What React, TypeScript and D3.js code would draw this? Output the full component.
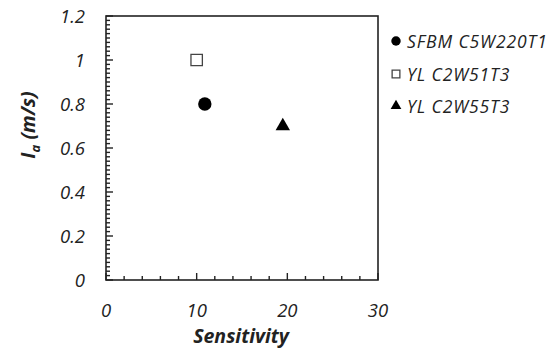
import React, { useEffect, useRef } from "react";
import * as d3 from "d3";

const seriesNames = ["SFBM C5W220T1", "YL C2W51T3", "YL C2W55T3"];
const seriesShapes = ["circle", "square", "triangle"];
const sensitivity = [10.9, 10, 19.5];
const ia = [0.8, 1.0, 0.7];
const xTicks = [0, 10, 20, 30];
const yTicks = [0, 0.2, 0.4, 0.6, 0.8, 1, 1.2];

const App = () => {
  const svgRef = useRef<SVGSVGElement>(null);

  useEffect(() => {
    const w = 557;
    const h = 348;
    const m = { left: 106, top: 16, right: 378, bottom: 280 };
    const svg = d3.select(svgRef.current)
      .attr("width", w)
      .attr("height", h)
      .style("font-family", "'Open Sans', sans-serif");
    svg.selectAll("*").remove();

    const x = d3.scaleLinear().domain([0, 30]).range([m.left, m.right]);
    const y = d3.scaleLinear().domain([0, 1.2]).range([m.bottom, m.top]);
    const ink = "#222";

    // frame
    svg.append("rect")
      .attr("x", m.left).attr("y", m.top)
      .attr("width", m.right - m.left).attr("height", m.bottom - m.top)
      .attr("fill", "none").attr("stroke", ink).attr("stroke-width", 1.6);

    // minor / major inward ticks
    const g = svg.append("g").attr("stroke", ink).attr("stroke-width", 1.4);
    d3.range(0, 30.01, 2).forEach(v => {
      const len = v % 10 === 0 ? 7 : 4;
      g.append("line").attr("x1", x(v)).attr("x2", x(v))
        .attr("y1", m.bottom).attr("y2", m.bottom - len);
    });
    d3.range(0, 1.201, 0.02).forEach(v => {
      const major = Math.abs(Math.round(v / 0.2) * 0.2 - v) < 1e-6;
      g.append("line").attr("y1", y(v)).attr("y2", y(v))
        .attr("x1", m.left).attr("x2", m.left + (major ? 7 : 4));
    });

    // tick labels
    svg.selectAll(".xt").data(xTicks).enter().append("text")
      .attr("x", d => x(d)).attr("y", 317)
      .attr("text-anchor", "middle").attr("font-size", 18.5)
      .attr("font-style", "italic").attr("fill", ink)
      .text(d => d);
    svg.selectAll(".yt").data(yTicks).enter().append("text")
      .attr("x", 85).attr("y", d => y(d) + 6.5)
      .attr("text-anchor", "end").attr("font-size", 18.5)
      .attr("font-style", "italic").attr("fill", ink)
      .text(d => d);

    // axis titles
    svg.append("text")
      .attr("x", x(15) - 1).attr("y", 343)
      .attr("text-anchor", "middle").attr("font-size", 19.5)
      .attr("font-style", "italic").attr("font-weight", "bold").attr("fill", ink)
      .text("Sensitivity");
    const yt = svg.append("text")
      .attr("transform", `translate(35,125) rotate(-90)`)
      .attr("text-anchor", "middle").attr("font-size", 19.5)
      .attr("font-style", "italic").attr("font-weight", "bold").attr("fill", ink);
    yt.append("tspan").text("I");
    yt.append("tspan").attr("font-size", 13).attr("dy", 5).text("a");
    yt.append("tspan").attr("dy", -5).text(" (m/s)");

    const sym = (shape: string, size: number) => {
      if (shape === "circle") return d3.symbol(d3.symbolCircle, size)();
      if (shape === "square") return d3.symbol(d3.symbolSquare, size)();
      return d3.symbol(d3.symbolTriangle, size)();
    };
    const drawMarker = (sel: any, shape: string, cx: number, cy: number, size: number) => {
      sel.append("path")
        .attr("d", sym(shape, size))
        .attr("transform", `translate(${cx},${cy})`)
        .attr("fill", shape === "square" ? "#fff" : "#000")
        .attr("stroke", shape === "square" ? "#444" : "none")
        .attr("stroke-width", 1.3);
    };

    // points
    seriesShapes.forEach((s, i) => {
      const size = s === "circle" ? 140 : s === "square" ? 130 : 90;
      drawMarker(svg, s, x(sensitivity[i]), y(ia[i]), size);
    });

    // legend
    const rows = [42, 75, 107];
    seriesNames.forEach((name, i) => {
      const s = seriesShapes[i];
      const size = s === "circle" ? 70 : s === "square" ? 60 : 50;
      drawMarker(svg, s, 396, rows[i] - 1, size);
      svg.append("text")
        .attr("x", 407).attr("y", rows[i] + 6)
        .attr("font-size", 17.5).attr("letter-spacing", 0.9)
        .attr("font-style", "italic").attr("fill", ink)
        .text(name);
    });
  }, []);

  return (
    <div style={{ position: "absolute", left: 0, top: 0 }}>
      <svg ref={svgRef}></svg>
    </div>
  );
};

export default App;
